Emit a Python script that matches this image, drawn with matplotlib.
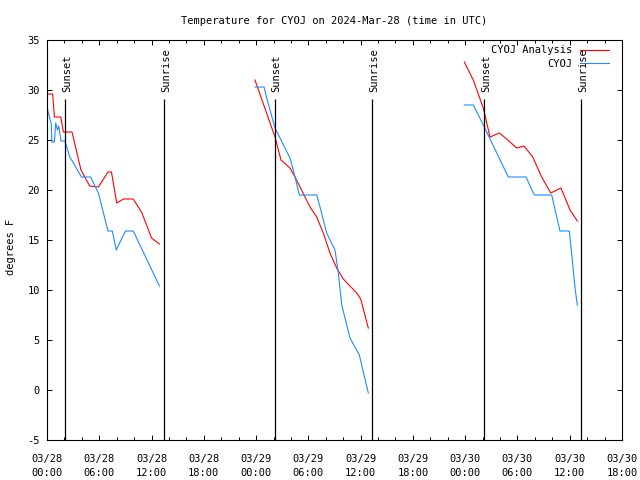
import matplotlib
matplotlib.use("Agg")
import matplotlib.pyplot as plt

# hours since 2024-03-28 00:00 UTC
analysis_segments = [
    ([0.0, 0.65, 0.85, 1.58, 1.88, 2.87, 3.9, 4.9, 5.9, 7.0, 7.4, 8.0, 8.8, 9.9, 10.9, 12.0, 12.9],
     [29.6, 29.6, 27.3, 27.3, 25.8, 25.8, 22.0, 20.4, 20.3, 21.8, 21.8, 18.7, 19.1, 19.1, 17.7, 15.2, 14.6]),
    ([23.87, 26.17, 26.86, 27.89, 28.47, 30.19, 30.96, 31.71, 32.48, 33.25, 34.01, 35.55, 36.01, 36.88],
     [31.0, 25.3, 23.0, 22.2, 21.3, 18.3, 17.3, 15.7, 13.7, 12.2, 11.1, 9.7, 9.1, 6.2]),
    ([47.9, 48.93, 50.08, 50.85, 51.92, 52.77, 53.91, 54.75, 55.75, 56.78, 57.82, 59.0, 60.03, 60.87],
     [32.8, 31.0, 28.2, 25.3, 25.7, 25.1, 24.2, 24.4, 23.3, 21.3, 19.7, 20.2, 18.0, 16.9]),
]
obs_segments = [
    ([0.0, 0.3, 0.5, 0.55, 0.85, 1.0, 1.2, 1.35, 1.6, 2.05, 2.65, 2.9, 3.95, 5.0, 5.9, 7.0, 7.5, 7.95, 9.0, 9.9, 12.9],
     [28.3, 27.2, 26.6, 24.8, 24.8, 26.7, 26.0, 26.4, 24.9, 24.9, 23.2, 22.9, 21.3, 21.3, 19.7, 15.9, 15.9, 14.0, 15.9, 15.9, 10.4]),
    ([23.87, 24.91, 25.22, 26.17, 27.89, 28.27, 28.96, 30.96, 31.34, 32.1, 33.06, 33.44, 33.83, 34.78, 35.85, 36.88],
     [30.3, 30.3, 29.2, 26.2, 23.2, 22.0, 19.5, 19.5, 18.3, 15.7, 14.0, 11.7, 8.5, 5.2, 3.5, -0.3]),
    ([47.9, 48.93, 50.08, 52.95, 54.98, 55.93, 57.93, 58.88, 59.95, 60.41, 60.64, 60.87],
     [28.5, 28.5, 26.5, 21.3, 21.3, 19.5, 19.5, 15.9, 15.9, 12.0, 10.0, 8.5]),
]
sun_hours = [2.07, 13.46, 26.17, 37.34, 50.2, 61.33]
sun_labels = ["Sunset", "Sunrise", "Sunset", "Sunrise", "Sunset", "Sunrise"]
xtick_hours = list(range(0, 67, 6))
xtick_labels = ["03/28\n00:00", "03/28\n06:00", "03/28\n12:00", "03/28\n18:00",
                "03/29\n00:00", "03/29\n06:00", "03/29\n12:00", "03/29\n18:00",
                "03/30\n00:00", "03/30\n06:00", "03/30\n12:00", "03/30\n18:00"]
yticks = list(range(-5, 36, 5))

FONT = "DejaVu Sans Mono"
FS = 7.5
RED = "#ff0000"
BLUE = "#1e8cff"

plt.rcParams["font.family"] = [FONT]
fig = plt.figure(figsize=(6.4, 4.8), dpi=100)
ax = fig.add_axes([47/640, 40/480, 575/640, 400/480])

for i, (xs, ys) in enumerate(analysis_segments):
    ax.plot(xs, ys, color=RED, lw=0.8, label="CYOJ Analysis" if i == 0 else None)
for i, (xs, ys) in enumerate(obs_segments):
    ax.plot(xs, ys, color=BLUE, lw=0.8, label="CYOJ" if i == 0 else None)

for h, lab in zip(sun_hours, sun_labels):
    ax.vlines(h, -5, 29.1, color="black", lw=0.9)
    ax.text(h + 0.2, 29.8, lab, rotation=90, ha="center", va="bottom",
            fontsize=FS, family=FONT)

ax.set_xlim(0, 66)
ax.set_ylim(-5, 35)
ax.set_xticks(xtick_hours)
ax.set_xticklabels(xtick_labels, fontsize=FS, linespacing=1.5)
ax.set_xticks(range(0, 67, 2), minor=True)
ax.set_yticks(yticks)
ax.set_yticklabels([str(v) for v in yticks], fontsize=FS)
ax.tick_params(axis="both", which="major", direction="in", length=3.5, width=0.7,
               top=True, right=True)
ax.tick_params(axis="x", which="minor", direction="in", length=2.2, width=0.7,
               top=True, bottom=True)
ax.tick_params(axis="x", which="major", pad=10)
ax.tick_params(axis="y", which="major", pad=5)
for s in ax.spines.values():
    s.set_linewidth(0.8)

ax.set_ylabel("degrees F", fontsize=FS)
ax.yaxis.set_label_coords(-0.054, 0.4825)

fig.text(334/640, 1 - 20.5/480, "Temperature for CYOJ on 2024-Mar-28 (time in UTC)",
         ha="center", va="center", fontsize=FS)

leg = ax.legend(loc="upper right", bbox_to_anchor=(1.0 - 8/575, 1.0), frameon=False,
                markerfirst=False, fontsize=FS, handlelength=2.8, handletextpad=0.7,
                labelspacing=0.35, borderaxespad=0.3, borderpad=0.2)

fig.savefig("out.png", dpi=100)
